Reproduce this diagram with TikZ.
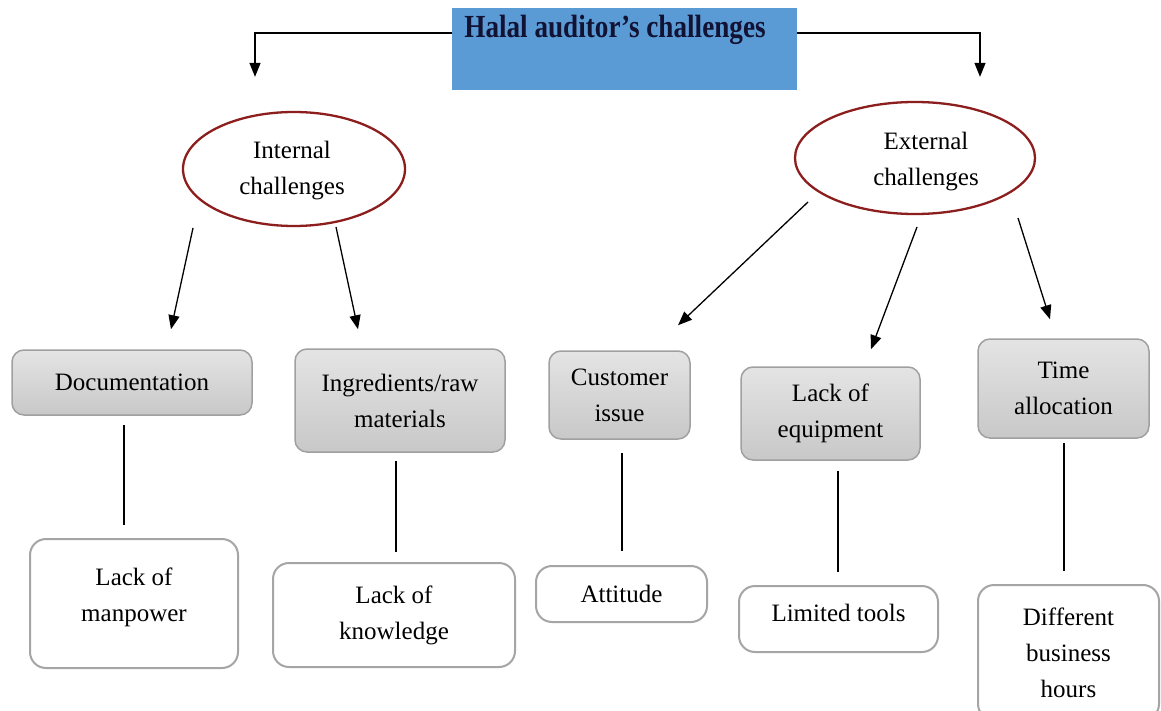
\documentclass[tikz,border=0pt]{standalone}
\usepackage{fontspec}
\usepackage{graphicx}
\setmainfont{Liberation Serif}
\usetikzlibrary{arrows.meta,calc,shapes.geometric}
\definecolor{titleblue}{RGB}{91,155,213}
\definecolor{titleink}{RGB}{18,18,52}
\definecolor{ellred}{RGB}{140,30,30}
\definecolor{boxgraytop}{RGB}{228,228,228}
\definecolor{boxgraybot}{RGB}{200,200,200}
\definecolor{boxborder}{RGB}{160,160,160}
\definecolor{wborder}{RGB}{165,165,165}
\begin{document}
\begin{tikzpicture}[x=1pt,y=-1pt,
  font=\fontsize{25}{36}\selectfont,
  conn/.style={line width=1.3pt, black},
  arr/.style={conn, -{Triangle[length=14pt,width=11pt]}},
  graybox/.style={draw=boxborder, line width=1.5pt, rounded corners=12pt,
    top color=boxgraytop, bottom color=boxgraybot, inner sep=0pt, align=center},
  whitebox/.style={draw=wborder, line width=2pt, rounded corners=16pt,
    fill=white, inner sep=0pt, align=center},
  oval/.style={ellipse, draw=ellred, line width=2.3pt, inner sep=0pt},
  lbl/.style={align=center, inner sep=0pt}]
\useasboundingbox (0,0) rectangle (1161,711);
\clip (0,0) rectangle (1161,711);
\fill[white] (0,0) rectangle (1161,711);

% title
\node[fill=titleblue, minimum width=345pt, minimum height=82pt, inner sep=0pt] (title) at (624.5,49) {};
\node[lbl, font=\fontsize{28}{32}\selectfont\bfseries, text=titleink] (titletxt) at (615,30) {\scalebox{0.97}[1.15]{Halal auditor’s challenges}};

% ellipses
\node[oval, minimum width=222pt, minimum height=114pt] (int) at (294,169) {};
\node[lbl] (inttxt) at (292,171) {Internal\\challenges};
\node[oval, minimum width=240pt, minimum height=112pt] (ext) at (915,158) {};
\node[lbl] (exttxt) at (926,162) {External\\challenges};

% gray boxes
\node[graybox, minimum width=240pt, minimum height=65pt] (doc) at (132,382.5) {Documentation};
\node[graybox, minimum width=210pt, minimum height=103pt] (ing) at (400,400.5) {Ingredients/raw\\materials};
\node[graybox, minimum width=141pt, minimum height=88pt] (cust) at (619.5,395) {Customer\\issue};
\node[graybox, minimum width=179pt, minimum height=93pt] (equip) at (830.5,413.5) {Lack of\\equipment};
\node[graybox, minimum width=171pt, minimum height=99pt] (time) at (1063.5,388.5) {Time\\allocation};

% white boxes
\node[whitebox, minimum width=208pt, minimum height=129pt] (man) at (134,603.5) {};
\node[lbl] (mantxt) at (134,597) {Lack of\\manpower};
\node[whitebox, minimum width=242pt, minimum height=104pt] (kno) at (394,615) {Lack of\\knowledge};
\node[whitebox, minimum width=171pt, minimum height=56pt] (att) at (621.5,594) {Attitude};
\node[whitebox, minimum width=199pt, minimum height=66pt] (lim) at (838.5,619) {};
\node[lbl] (limtxt) at (838.5,613) {Limited tools};
\node[whitebox, minimum width=181pt, minimum height=135pt] (diff) at (1068.5,652.5) {Different\\business\\hours};

% top connectors
\draw[arr] ($(title.west)+(0,-16)$) -| ($(int.north)+(-39,-34)$);
\draw[arr] ($(title.east)+(0,-16)$) -| ($(ext.north)+(65,-24)$);

% arrows from ellipses
\draw[arr] ($(int.center)+(-101,59)$) -- ($(doc.north)+(39,-20)$);
\draw[arr] ($(int.center)+(42,58)$) -- ($(ing.north)+(-42,-19)$);
\draw[arr] ($(ext.center)+(-107,44)$) -- ($(cust.north)+(58.5,-25)$);
\draw[arr] ($(ext.center)+(2,69)$) -- ($(equip.north)+(40.5,-17)$);
\draw[arr] ($(ext.center)+(103,60)$) -- ($(time.north)+(-13.5,-19)$);

% vertical links
\draw[conn] ($(doc.south)+(-8,9)$) -- ($(man.north)+(-10,-13)$);
\draw[conn] ($(ing.south)+(-4,8)$) -- ($(kno.north)+(2,-10)$);
\draw[conn] ($(cust.south)+(2.5,13)$) -- ($(att.north)+(0.5,-14)$);
\draw[conn] ($(equip.south)+(7.5,10)$) -- ($(lim.north)+(-0.5,-13)$);
\draw[conn] ($(time.south)+(0.5,4)$) -- ($(diff.north)+(-4.5,-13)$);
\end{tikzpicture}
\end{document}
